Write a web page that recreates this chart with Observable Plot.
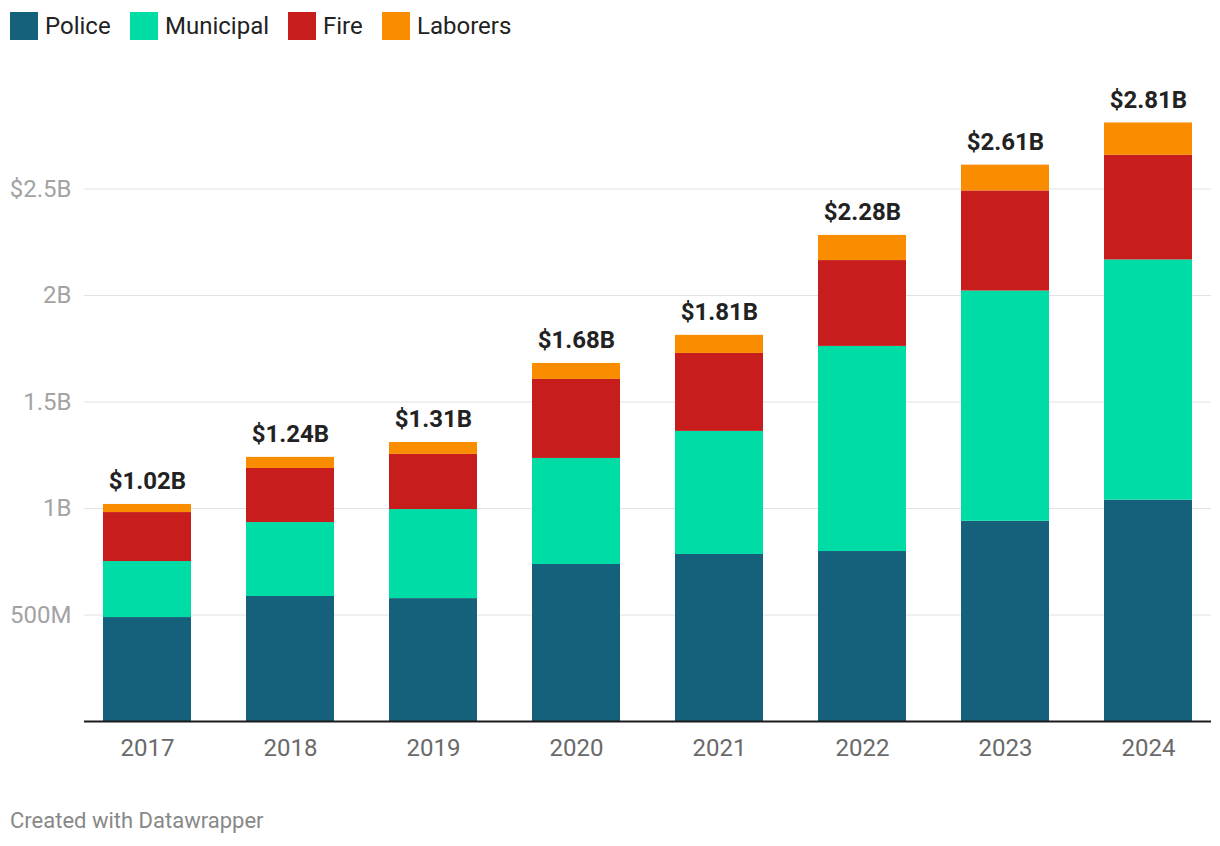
<!DOCTYPE html>
<html>
<head>
<meta charset="utf-8">
<script src="https://cdn.jsdelivr.net/npm/d3@7"></script>
<script src="https://cdn.jsdelivr.net/npm/@observablehq/plot@0.6"></script>
<style>
  html, body { margin: 0; padding: 0; background: #fff; }
  body { font-family: Roboto, "Noto Sans", sans-serif; width: 1220px; height: 846px; overflow: hidden; }
  #legend { height: 50px; position: relative; }
  .item { position: absolute; top: 12px; display: flex; align-items: center; height: 28px; font-size: 24px; color: #222; }
  .sw { width: 28px; height: 28px; margin-right: 7px; flex: none; }
  #caption { position: absolute; left: 10px; top: 808px; font-size: 22px; color: #888; }
</style>
</head>
<body>
<div id="legend"></div>
<div id="chart"></div>
<div id="caption">Created with Datawrapper</div>
<script>
const years = ["2017", "2018", "2019", "2020", "2021", "2022", "2023", "2024"];
const series = ["Police", "Municipal", "Fire", "Laborers"];
const colors = ["#15607a", "#00dca6", "#c71e1d", "#fa8c00"];
// values in billions of dollars
const police    = [0.488, 0.587, 0.577, 0.737, 0.784, 0.798, 0.940, 1.039];
const municipal = [0.263, 0.347, 0.418, 0.498, 0.578, 0.963, 1.081, 1.128];
const fire      = [0.230, 0.254, 0.259, 0.371, 0.366, 0.403, 0.470, 0.491];
const laborers  = [0.038, 0.052, 0.056, 0.075, 0.085, 0.118, 0.121, 0.152];
const totalLabels = ["$1.02B", "$1.24B", "$1.31B", "$1.68B", "$1.81B", "$2.28B", "$2.61B", "$2.81B"];
const yTicks = [0.5, 1, 1.5, 2, 2.5];
const yTickLabels = ["500M", "1B", "1.5B", "2B", "$2.5B"];

const seriesValues = [police, municipal, fire, laborers];
const data = [];
series.forEach((s, si) => years.forEach((y, i) => data.push({year: y, series: s, value: seriesValues[si][i]})));
const totals = years.map((y, i) => ({year: y, total: d3.sum(seriesValues, v => v[i]), label: totalLabels[i]}));

// legend
const legend = document.getElementById("legend");
const legendX = [10, 130, 288, 382];
series.forEach((s, i) => {
  const it = document.createElement("div");
  it.className = "item";
  it.style.left = legendX[i] + "px";
  it.innerHTML = `<span class="sw" style="background:${colors[i]}"></span><span>${s}</span>`;
  legend.appendChild(it);
});

const chart = Plot.plot({
  width: 1220,
  height: 740,
  marginTop: 32,
  marginBottom: 69,
  marginLeft: 87,
  marginRight: 12,
  style: {fontFamily: "Roboto, sans-serif", background: "#fff"},
  x: {domain: years, paddingInner: 0.385, paddingOuter: 0.107, align: 0.5, label: null},
  y: {domain: [0, 3], label: null},
  color: {domain: series, range: colors},
  marks: [
    Plot.ruleY(yTicks, {stroke: "#e2e2e2", strokeWidth: 1, insetLeft: -3, insetRight: -3}),
    Plot.barY(data, {x: "year", y: "value", fill: "series", order: series}),
    Plot.ruleY([0], {stroke: "#1b1b1b", strokeWidth: 2, insetLeft: -3, insetRight: -3}),
    Plot.text(totals, {x: "year", y: "total", text: "label", lineAnchor: "bottom", dy: -15, fontWeight: "bold", fontSize: 24, fill: "#222"}),
    Plot.axisY(yTicks, {tickSize: 0, tickPadding: 16, fontSize: 24, color: "#a3a3a3", label: null,
      tickFormat: d => yTickLabels[yTicks.indexOf(d)]}),
    Plot.axisX({tickSize: 0, tickPadding: 17, fontSize: 24, color: "#6a6a6a", label: null})
  ]
});
document.getElementById("chart").appendChild(chart);
</script>
</body>
</html>
